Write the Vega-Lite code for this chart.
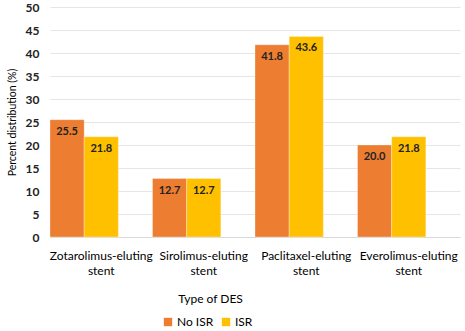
{
  "$schema": "https://vega.github.io/schema/vega-lite/v6.json",
  "width": 410,
  "height": 230,
  "autosize": "none",
  "padding": {"left": 50, "top": 7, "right": 5, "bottom": 94},
  "background": "white",
  "config": {
    "font": "Lato",
    "view": {"stroke": null}
  },
  "data": {
    "values": [
      {"type": "Zotarolimus-eluting stent", "group": "No ISR", "value": 25.5},
      {"type": "Zotarolimus-eluting stent", "group": "ISR", "value": 21.8},
      {"type": "Sirolimus-eluting stent", "group": "No ISR", "value": 12.7},
      {"type": "Sirolimus-eluting stent", "group": "ISR", "value": 12.7},
      {"type": "Paclitaxel-eluting stent", "group": "No ISR", "value": 41.8},
      {"type": "Paclitaxel-eluting stent", "group": "ISR", "value": 43.6},
      {"type": "Everolimus-eluting stent", "group": "No ISR", "value": 20.0},
      {"type": "Everolimus-eluting stent", "group": "ISR", "value": 21.8}
    ]
  },
  "encoding": {
    "x": {
      "field": "type",
      "type": "nominal",
      "sort": null,
      "scale": {"paddingInner": 0, "paddingOuter": 0},
      "axis": {
        "title": "Type of DES",
        "titleFontSize": 12,
        "titleFontWeight": "normal",
        "titleColor": "#000",
        "titleX": 160,
        "titleY": 56,
        "titleAnchor": "middle",
        "labelAngle": 0,
        "labelFontSize": 12,
        "labelColor": "#000",
        "labelPadding": 13,
        "labelExpr": "split(datum.label, ' ')",
        "labelLineHeight": 15,
        "labelLimit": 200,
        "ticks": false,
        "domainColor": "#d9d9d9",
        "grid": false
      }
    },
    "xOffset": {
      "field": "group",
      "type": "nominal",
      "scale": {"domain": ["No ISR", "ISR", "blank"], "paddingInner": 0, "paddingOuter": 0}
    },
    "y": {
      "field": "value",
      "type": "quantitative",
      "scale": {"domain": [0, 50]},
      "axis": {
        "title": "Percent distribution (%)",
        "titleFontSize": 10.5,
        "titleFontWeight": "normal",
        "titleColor": "#000",
        "titlePadding": 8,
        "values": [0, 5, 10, 15, 20, 25, 30, 35, 40, 45, 50],
        "labelFontSize": 12,
        "labelFontWeight": "bold",
        "labelColor": "#222",
        "labelPadding": 11,
        "ticks": false,
        "domain": false,
        "gridColor": "#e6e6e6",
        "gridWidth": 1.2
      }
    }
  },
  "layer": [
    {
      "mark": {"type": "bar", "stroke": "white", "strokeOpacity": 0.4, "strokeWidth": 0.8},
      "encoding": {
        "color": {
          "field": "group",
          "type": "nominal",
          "scale": {"domain": ["No ISR", "ISR"], "range": ["#ED7D31", "#FFC000"]},
          "legend": {
            "title": null,
            "orient": "none",
            "direction": "horizontal",
            "legendX": 112,
            "legendY": 309,
            "symbolType": "square",
            "symbolSize": 70,
            "symbolStrokeWidth": 0,
            "labelFontSize": 12,
            "labelColor": "#000",
            "columnPadding": 6,
            "labelOffset": 3
          }
        }
      }
    },
    {
      "mark": {"type": "text", "baseline": "top", "dy": 6, "fontSize": 11, "fontWeight": "bold", "color": "#222"},
      "encoding": {
        "text": {"field": "value", "type": "quantitative", "format": ".1f"}
      }
    }
  ]
}
